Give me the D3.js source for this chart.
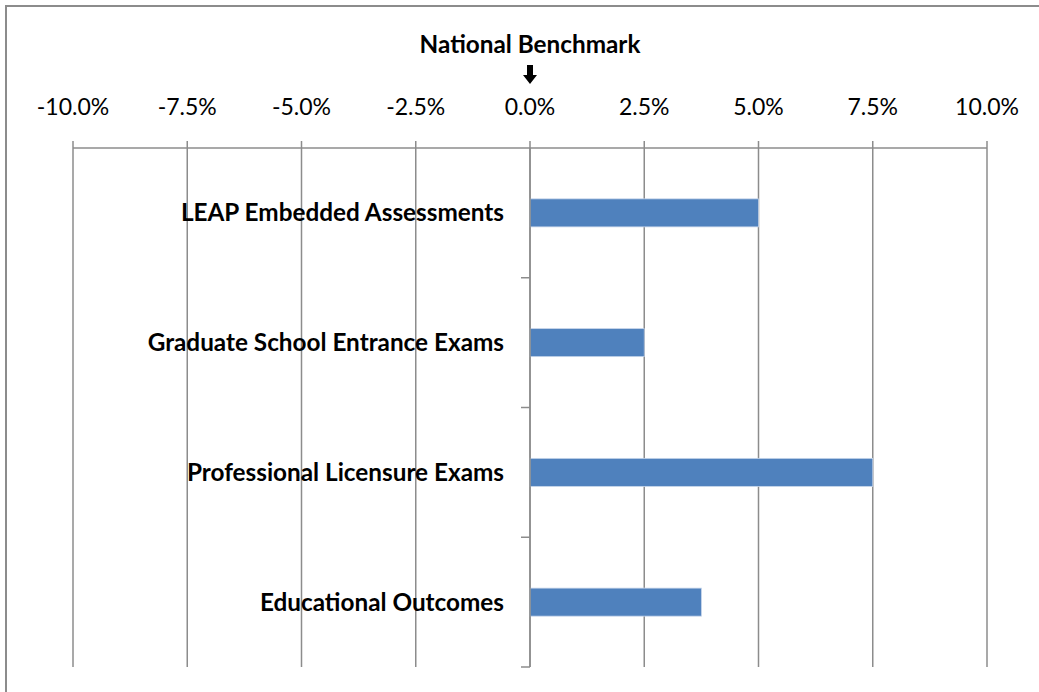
<!DOCTYPE html>
<meta charset="utf-8">
<script src="https://d3js.org/d3.v7.min.js"></script>
<style>
  body { margin: 0; background: #fff; }
  text { font-family: Lato, "Open Sans", sans-serif; fill: #000; }
</style>
<body>
<div id="chart"></div>
<script>
// data
const categories = ["LEAP Embedded Assessments", "Graduate School Entrance Exams", "Professional Licensure Exams", "Educational Outcomes"];
const values = [0.05, 0.025, 0.075, 0.0375];
const tickValues = [-0.1, -0.075, -0.05, -0.025, 0, 0.025, 0.05, 0.075, 0.1];
const title = "National Benchmark";

const W = 1039, H = 692;
const margin = {top: 148, left: 73, right: 52, bottom: 25};
const width = W - margin.left - margin.right,
      height = H - margin.top - margin.bottom;

const svg = d3.select("#chart").append("svg")
  .attr("width", W).attr("height", H);

// outer frame (runs off the right and bottom edges)
svg.append("rect")
  .attr("x", 6).attr("y", 6)
  .attr("width", W + 10).attr("height", H + 10)
  .attr("fill", "none").attr("stroke", "#8c8c8c").attr("stroke-width", 2);

const g = svg.append("g").attr("transform", `translate(${margin.left},${margin.top})`);

const x = d3.scaleLinear().domain([-0.1, 0.1]).range([0, width]);
const y = d3.scaleBand().domain(categories).range([0, height]).paddingInner(0.784).paddingOuter(0.392);
const yb = d3.scaleBand().domain(categories).range([0, height]);

// excel style: plain hyphen for negatives
const fmt = d => d3.format(".1%")(d).replace("\u2212", "-");

// gridlines
g.selectAll("line.grid").data(tickValues).join("line")
  .attr("class", "grid")
  .attr("x1", d => x(d)).attr("x2", d => x(d))
  .attr("y1", -7).attr("y2", height)
  .attr("stroke", "#8c8c8c").attr("stroke-width", 1.5);

// top axis line
g.append("line")
  .attr("x1", 0).attr("x2", width).attr("y1", 0).attr("y2", 0)
  .attr("stroke", "#8c8c8c").attr("stroke-width", 1.5);

// tick labels
g.selectAll("text.tick").data(tickValues).join("text")
  .attr("class", "tick")
  .attr("x", d => x(d)).attr("y", -33)
  .attr("text-anchor", "middle")
  .attr("font-size", 23)
  .text(d => fmt(d));

// bars
g.selectAll("rect.bar").data(categories).join("rect")
  .attr("class", "bar")
  .attr("x", x(0))
  .attr("y", d => y(d))
  .attr("width", (d, i) => x(values[i]) - x(0))
  .attr("height", y.bandwidth())
  .attr("fill", "#4f81bd").attr("stroke", "#c6d5ea").attr("stroke-width", 0.8);

// vertical axis at zero
g.append("line")
  .attr("x1", x(0)).attr("x2", x(0)).attr("y1", 0).attr("y2", height)
  .attr("stroke", "#8c8c8c").attr("stroke-width", 1.5);
g.selectAll("line.ytick").data(categories).join("line")
  .attr("class", "ytick")
  .attr("x1", x(0) - 9).attr("x2", x(0))
  .attr("y1", d => yb(d) + yb.bandwidth()).attr("y2", d => yb(d) + yb.bandwidth())
  .attr("stroke", "#8c8c8c").attr("stroke-width", 1.5);

// category labels
g.selectAll("text.cat").data(categories).join("text")
  .attr("class", "cat")
  .attr("x", x(0) - 26)
  .attr("y", d => y(d) + y.bandwidth() / 2)
  .attr("dy", "0.35em")
  .attr("text-anchor", "end")
  .attr("font-size", 24.3).attr("font-weight", "bold")
  .text(d => d);

// title with arrow pointing at the benchmark
svg.append("text")
  .attr("x", margin.left + x(0)).attr("y", 53)
  .attr("text-anchor", "middle")
  .attr("font-size", 24.3).attr("font-weight", "bold")
  .text(title);

const ax = margin.left + x(0);
svg.append("path")
  .attr("d", `M${ax - 3},65 H${ax + 3} V75 H${ax + 7} L${ax},84 L${ax - 7},75 H${ax - 3} Z`)
  .attr("fill", "#000");
</script>
</body>
